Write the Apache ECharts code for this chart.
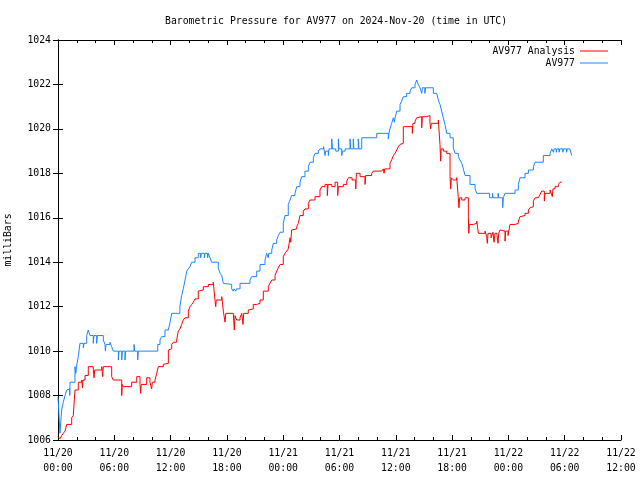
<!DOCTYPE html>
<html>
<head>
<meta charset="utf-8">
<script src="https://cdn.jsdelivr.net/npm/echarts@6/dist/echarts.min.js"></script>
<style>html,body{margin:0;padding:0;background:#fff}#c{width:640px;height:480px}</style>
</head>
<body>
<div id="c"></div>
<script>
// Hours since 2024-11-20 00:00 UTC and pressure (mbar)
var redTimes = [0,0.21,0.39,0.56,0.75,0.93,1.46,1.63,1.81,2.16,2.53,2.61,2.66,2.88,3.23,3.76,3.84,3.91,4.66,4.76,4.83,5.72,5.89,6.79,6.85,6.96,7.85,8.39,8.74,8.81,8.87,9.45,9.8,9.98,10.05,10.34,10.52,10.69,11.22,11.4,11.76,11.94,12.12,12.29,12.65,12.82,13.0,13.18,13.35,13.54,13.89,14.07,14.25,14.42,14.6,14.95,15.13,15.49,16.02,16.55,16.73,16.81,16.87,17.45,17.62,17.8,17.88,18.68,18.79,18.86,19.04,19.4,19.58,19.72,19.79,20.28,20.46,20.81,21.18,21.53,21.88,22.41,22.59,22.78,23.13,23.31,23.48,23.66,24.01,24.19,24.37,24.54,24.73,24.8,24.9,25.08,25.44,25.61,25.79,26.14,26.32,26.68,26.86,27.39,27.92,28.1,28.46,28.7,28.78,29.17,29.53,29.81,29.88,30.41,30.77,30.95,31.34,31.73,31.8,32.19,32.72,32.79,33.43,33.6,34.5,34.67,34.75,34.82,35.38,35.56,35.74,35.92,36.1,36.27,36.45,36.63,36.8,37.76,37.83,38.05,38.23,38.4,38.76,38.83,39.29,39.64,39.72,39.78,40.53,40.71,40.78,40.84,41.06,41.43,41.78,41.85,41.92,42.13,42.49,42.66,42.73,42.81,43.03,43.38,43.73,43.78,43.84,44.27,44.63,44.8,45.51,45.69,45.75,45.83,46.15,46.36,46.47,46.57,46.79,46.89,46.97,47.1,47.28,47.64,47.71,47.96,48.17,48.71,49.06,49.24,49.42,49.77,50.13,50.31,50.49,50.66,50.84,51.19,51.37,51.55,51.83,51.9,52.44,52.62,52.68,52.75,52.97,53.32,53.5,53.68];
var redValues = [1006.15,1006.05,1006.2,1006.3,1006.4,1006.7,1007.0,1007.1,1008.25,1008.6,1008.7,1008.35,1008.7,1008.9,1009.3,1009.15,1008.8,1009.15,1009.3,1008.85,1009.3,1008.85,1008.7,1008.0,1008.5,1008.4,1008.6,1008.85,1008.5,1008.1,1008.5,1008.8,1008.6,1008.3,1008.6,1008.7,1009.0,1009.3,1009.4,1009.45,1010.05,1010.1,1010.3,1010.4,1010.5,1010.9,1011.0,1011.2,1011.4,1011.5,1011.8,1012.0,1012.1,1012.2,1012.35,1012.7,1012.75,1012.9,1013.0,1013.1,1012.3,1012.0,1012.3,1012.45,1011.8,1011.3,1011.7,1011.75,1010.95,1011.6,1011.4,1011.5,1011.7,1011.2,1011.7,1011.85,1011.9,1012.1,1012.15,1012.3,1012.7,1012.9,1013.05,1013.2,1013.4,1013.6,1013.75,1013.9,1014.25,1014.4,1014.5,1014.6,1015.1,1014.9,1015.45,1015.5,1015.6,1015.75,1016.1,1016.3,1016.4,1016.65,1016.8,1016.95,1017.25,1017.4,1017.5,1017.0,1017.5,1017.4,1017.6,1017.0,1017.4,1017.5,1017.65,1017.8,1017.7,1017.3,1018.0,1017.85,1017.5,1017.9,1018.0,1018.1,1018.15,1018.2,1018.0,1018.2,1018.45,1018.6,1018.8,1018.9,1019.05,1019.2,1019.3,1019.35,1020.1,1019.8,1020.25,1020.35,1020.5,1020.55,1020.05,1020.55,1020.6,1020.25,1020.0,1020.25,1020.4,1019.3,1018.55,1019.1,1019.0,1018.9,1017.85,1017.3,1017.8,1017.7,1017.8,1016.9,1016.45,1016.9,1016.8,1016.9,1016.05,1015.3,1015.7,1015.75,1015.85,1015.3,1015.4,1015.15,1014.85,1015.3,1015.1,1015.35,1014.9,1015.3,1015.2,1014.85,1015.3,1015.45,1015.4,1014.95,1015.4,1015.2,1015.7,1015.75,1015.85,1016.05,1016.1,1016.2,1016.35,1016.45,1016.5,1016.75,1016.9,1016.95,1017.05,1017.2,1016.75,1017.1,1017.25,1017.3,1016.95,1017.3,1017.4,1017.5,1017.6,1017.6];

var blueTimes = [0,0.21,0.39,0.56,0.75,0.93,1.1,1.25,1.28,1.81,1.9,1.97,2.16,2.34,2.7,2.77,3.06,3.23,3.41,3.76,3.83,4.12,4.19,4.83,5.01,5.05,5.12,5.54,5.72,5.89,6.43,6.5,6.79,6.86,7.14,7.21,8.1,8.17,8.49,8.56,10.63,10.87,11.05,11.4,11.76,11.94,12.12,12.99,13.18,13.35,13.54,13.72,13.89,14.07,14.25,14.6,14.95,15.2,15.27,15.6,15.67,15.95,16.02,16.2,16.38,17.08,17.27,17.45,17.62,17.8,18.51,18.68,18.75,18.95,19.02,19.4,20.46,20.64,21.18,21.53,22.06,22.24,22.4,22.47,22.78,22.95,23.31,23.48,23.66,24.01,24.19,24.54,24.73,24.9,25.26,25.44,25.79,25.97,26.32,26.68,26.86,27.21,27.39,27.74,27.92,28.3,28.46,28.53,28.81,28.88,29.17,29.25,29.6,29.88,29.95,30.24,30.31,30.6,31.12,31.19,31.47,31.54,32.0,32.07,32.37,33.97,35.2,35.27,35.38,35.56,35.74,35.85,35.92,36.1,36.45,36.63,36.8,37.16,37.52,37.7,38.05,38.23,38.4,38.58,38.76,38.83,39.1,39.17,40.0,40.36,40.53,40.71,40.89,41.06,41.24,41.43,41.78,42.13,42.31,42.66,42.84,43.03,43.2,43.38,43.91,44.45,44.63,46.0,46.3,46.37,46.9,46.97,47.39,47.46,47.64,48.71,49.06,49.24,49.77,50.13,50.66,50.84,51.72,52.44,52.62,52.8,52.87,53.1,53.17,53.4,53.47,53.8,53.87,54.2,54.27,54.56,54.74];
var blueValues = [1007.95,1006.3,1007.35,1007.7,1008.0,1008.25,1008.3,1008.0,1008.6,1009.3,1009.0,1009.3,1009.75,1010.35,1010.15,1010.35,1010.7,1010.95,1010.7,1010.35,1010.7,1010.35,1010.7,1010.5,1010.3,1010.0,1010.3,1010.4,1010.2,1010.0,1009.6,1010.0,1009.6,1010.0,1009.6,1010.0,1010.3,1010.0,1009.6,1010.0,1010.3,1010.5,1010.65,1010.95,1011.0,1011.3,1011.7,1012.0,1012.5,1012.8,1013.2,1013.6,1013.7,1013.8,1014.0,1014.2,1014.4,1014.2,1014.4,1014.2,1014.4,1014.2,1014.4,1014.2,1014.0,1013.75,1013.5,1013.4,1013.05,1013.0,1012.8,1012.7,1012.8,1012.7,1012.8,1013.05,1013.2,1013.35,1013.6,1013.9,1014.1,1014.4,1014.2,1014.4,1014.55,1014.85,1015.0,1015.2,1015.35,1015.75,1016.1,1016.6,1016.8,1017.0,1017.1,1017.4,1017.6,1017.85,1018.1,1018.3,1018.5,1018.7,1018.9,1019.0,1019.1,1019.2,1018.8,1019.0,1018.8,1019.1,1019.55,1019.1,1019.0,1019.55,1019.1,1018.8,1019.0,1019.1,1019.55,1019.1,1019.55,1019.1,1019.55,1019.1,1019.6,1019.8,1019.55,1019.8,1020.0,1020.25,1020.5,1020.3,1020.5,1020.8,1021.1,1021.25,1021.45,1021.6,1021.7,1021.85,1022.0,1022.2,1022.0,1021.85,1021.6,1021.85,1021.6,1021.85,1021.6,1021.55,1021.3,1021.1,1020.8,1020.5,1020.2,1019.8,1019.6,1019.15,1018.9,1018.75,1018.6,1018.45,1018.2,1017.9,1017.5,1017.3,1017.1,1016.9,1017.1,1016.9,1017.1,1016.9,1016.45,1016.9,1017.1,1017.25,1017.5,1017.8,1018.0,1018.15,1018.3,1018.5,1018.8,1018.9,1019.1,1018.95,1019.1,1018.95,1019.1,1018.95,1019.1,1018.95,1019.1,1018.95,1019.1,1019.1,1018.8];

var xTickLabels = ['11/20\n00:00','11/20\n06:00','11/20\n12:00','11/20\n18:00','11/21\n00:00','11/21\n06:00','11/21\n12:00','11/21\n18:00','11/22\n00:00','11/22\n06:00','11/22\n12:00'];
var seriesNames = ['AV977 Analysis', 'AV977'];
var titleText = 'Barometric Pressure for AV977 on 2024-Nov-20 (time in UTC)';
var yName = 'milliBars';

function zip(t, v) { return t.map(function (x, i) { return [x, v[i]]; }); }

var FONT = 'DejaVu Sans Mono';
var chart = echarts.init(document.getElementById('c'), null, { renderer: 'canvas' });
var axisLineStyle = { color: '#000', width: 1 };
var option = {
  animation: false,
  backgroundColor: '#fff',
  title: {
    text: titleText,
    left: 160, top: 11,
    textStyle: { fontFamily: FONT, fontSize: 9.8, fontWeight: 'normal', color: '#000' }
  },
  legend: {
    data: seriesNames,
    orient: 'vertical',
    right: 27, top: 40,
    align: 'right',
    icon: 'rect',
    itemWidth: 28, itemHeight: 1,
    itemGap: 0,
    textStyle: { fontFamily: FONT, fontSize: 9.8, color: '#000', lineHeight: 12 }
  },
  grid: { left: 58, right: 19, top: 40, bottom: 40, containLabel: false, outerBoundsMode: 'none' },
  xAxis: [{
    type: 'value', min: 0, max: 60, interval: 6, position: 'bottom',
    axisLine: { show: true, lineStyle: axisLineStyle },
    axisTick: { show: true, inside: true, length: 5, lineStyle: axisLineStyle },
    minorTick: { show: true, splitNumber: 3, length: 3, lineStyle: axisLineStyle },
    splitLine: { show: false },
    axisLabel: {
      margin: 6, lineHeight: 15, fontFamily: FONT, fontSize: 9.8, color: '#000',
      formatter: function (v) { return xTickLabels[Math.round(v / 6)]; }
    }
  }, {
    type: 'value', min: 0, max: 60, interval: 6, position: 'top',
    axisLine: { show: true, lineStyle: axisLineStyle },
    axisTick: { show: true, inside: true, length: 5, lineStyle: axisLineStyle },
    minorTick: { show: true, splitNumber: 3, length: 3, lineStyle: axisLineStyle },
    splitLine: { show: false },
    axisLabel: { show: false }
  }],
  yAxis: [{
    type: 'value', min: 1006, max: 1024, interval: 2, position: 'left',
    name: yName, nameLocation: 'middle', nameGap: 45, nameRotate: 90,
    nameTextStyle: { fontFamily: FONT, fontSize: 9.8, color: '#000' },
    axisLine: { show: true, lineStyle: axisLineStyle },
    axisTick: { show: true, inside: true, length: 5, lineStyle: axisLineStyle },
    splitLine: { show: false },
    axisLabel: { margin: 7, fontFamily: FONT, fontSize: 9.8, color: '#000',
      formatter: function (v) { return String(v); } }
  }, {
    type: 'value', min: 1006, max: 1024, interval: 2, position: 'right',
    axisLine: { show: true, lineStyle: axisLineStyle },
    axisTick: { show: true, inside: true, length: 5, lineStyle: axisLineStyle },
    splitLine: { show: false },
    axisLabel: { show: false }
  }],
  series: [{
    name: seriesNames[0], type: 'line', step: 'end',
    xAxisIndex: 0, yAxisIndex: 0,
    showSymbol: false, symbol: 'none',
    color: '#ff0000',
    lineStyle: { color: '#ff0000', width: 1 },
    data: zip(redTimes, redValues)
  }, {
    name: seriesNames[1], type: 'line', step: 'end',
    xAxisIndex: 0, yAxisIndex: 0,
    showSymbol: false, symbol: 'none',
    color: '#1a86ff',
    lineStyle: { color: '#1a86ff', width: 1 },
    data: zip(blueTimes, blueValues)
  }]
};
chart.setOption(option);
</script>
</body>
</html>
